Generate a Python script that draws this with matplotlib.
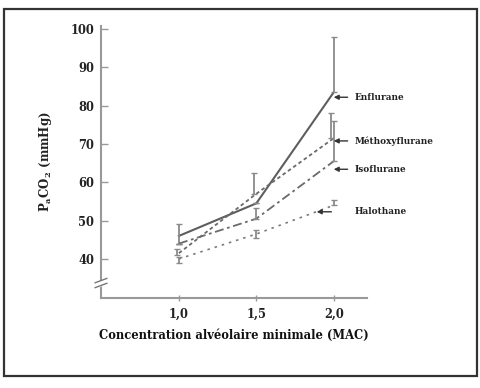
import matplotlib
matplotlib.use("Agg")
import matplotlib.pyplot as plt
import matplotlib.patches as mpatches

plt.rcParams['font.family'] = ['DejaVu Serif']
plt.rcParams['font.weight'] = 'bold'
plt.rcParams['mathtext.fontset'] = 'custom'
plt.rcParams['mathtext.bf'] = 'DejaVu Serif:bold'
plt.rcParams['mathtext.rm'] = 'DejaVu Serif:bold'
plt.rcParams['mathtext.default'] = 'bf'

# data (PaCO2 in mmHg at 1.0 / 1.5 / 2.0 MAC)
mac = [1.0, 1.5, 2.0]
enflurane = [46, 54.5, 83.5]
enflurane_lo = [2, 0, 0]
enflurane_hi = [3, 0, 14.5]
methoxy = [41.5, 57, 71.5]
methoxy_lo = [0.5, 0, 0]
methoxy_hi = [1.2, 5.5, 6.5]
iso = [44, 50.5, 65.5]
iso_lo = [0, 0, 0]
iso_hi = [0, 2.8, 10.5]
halothane = [40, 46.5, 54]
halothane_lo = [1, 1, 0]
halothane_hi = [0.5, 1, 1.5]

yticks = [40, 50, 60, 70, 80, 90, 100]
xtick_labels = ['1,0', '1,5', '2,0']

fig = plt.figure(figsize=(4.81, 3.88), dpi=100)
ax = fig.add_axes([0.21, 0.232, 0.553, 0.701])

err_col = '#8a8a8a'

series = [
    (enflurane, enflurane_lo, enflurane_hi, '-', '#5e5e5e', 1.5, 0.0),
    (methoxy, methoxy_lo, methoxy_hi, (0, (2, 1.6)), '#6a6a6a', 1.3, -0.015),
    (iso, iso_lo, iso_hi, (0, (5, 2, 1.5, 2)), '#6a6a6a', 1.3, 0.0),
    (halothane, halothane_lo, halothane_hi, (0, (1.5, 3)), '#7a7a7a', 1.2, 0.0),
]
for vals, lo, hi, ls, col, lw, dx in series:
    ax.plot(mac, vals, color=col, lw=lw, linestyle=ls)
    ax.errorbar([m + dx for m in mac], vals, yerr=[lo, hi], fmt='none',
                ecolor=err_col, elinewidth=1.3, capsize=2.5, capthick=1)

# labels with arrows
labels = [
    ('Enflurane', 82.2, 2.0),
    ('Méthoxyflurane', 70.8, 2.0),
    ('Isoflurane', 63.4, 2.0),
    ('Halothane', 52.3, 1.89),
]
for name, y, xa in labels:
    ax.annotate('', xy=(xa, y), xytext=(xa + 0.095 if xa < 1.95 else 2.09, y),
                arrowprops=dict(arrowstyle='-|>', color='#333333', lw=1,
                                mutation_scale=7, shrinkA=0, shrinkB=0),
                annotation_clip=False)
    ax.text(2.135, y, name, fontsize=6.4, fontweight='bold', color='#222222',
            va='center', ha='left')

ax.set_xlim(0.497, 2.215)
ax.set_ylim(29.8, 100.8)
ax.set_yticks(yticks)
ax.set_xticks(mac)
ax.set_xticklabels(xtick_labels)
ax.tick_params(axis='y', direction='in', length=5, width=1, color='#999999',
               labelsize=8.3, pad=5, labelcolor='#222222')
ax.tick_params(axis='x', direction='inout', length=4, width=1, color='#999999',
               labelsize=8.3, pad=5, labelcolor='#222222')
for s in ['top', 'right']:
    ax.spines[s].set_visible(False)
for s in ['left', 'bottom']:
    ax.spines[s].set_color('#999999')
    ax.spines[s].set_linewidth(1.5)

# axis break on the y spine
ax.plot([-0.02, 0.02], [0.045, 0.06], transform=ax.transAxes, color='white',
        lw=4, clip_on=False, zorder=5)
for yb in (0.038, 0.056):
    ax.plot([-0.022, 0.022], [yb, yb + 0.016], transform=ax.transAxes,
            color='#777777', lw=1, clip_on=False, zorder=6)

ax.set_ylabel(r'P$_{a}$CO$_{2}$ (mmHg)', fontsize=8.5, fontweight='bold',
              color='#222222', labelpad=12)
ax.set_xlabel('Concentration alvéolaire minimale (MAC)', fontsize=8.3,
              fontweight='bold', color='#111111', labelpad=6)

# frame around the figure
fig.patches.append(mpatches.Rectangle((0.0083, 0.031), 0.983, 0.946,
                                      transform=fig.transFigure, fill=False,
                                      edgecolor='#333333', lw=1.6))

fig.savefig('out.png', dpi=100)
